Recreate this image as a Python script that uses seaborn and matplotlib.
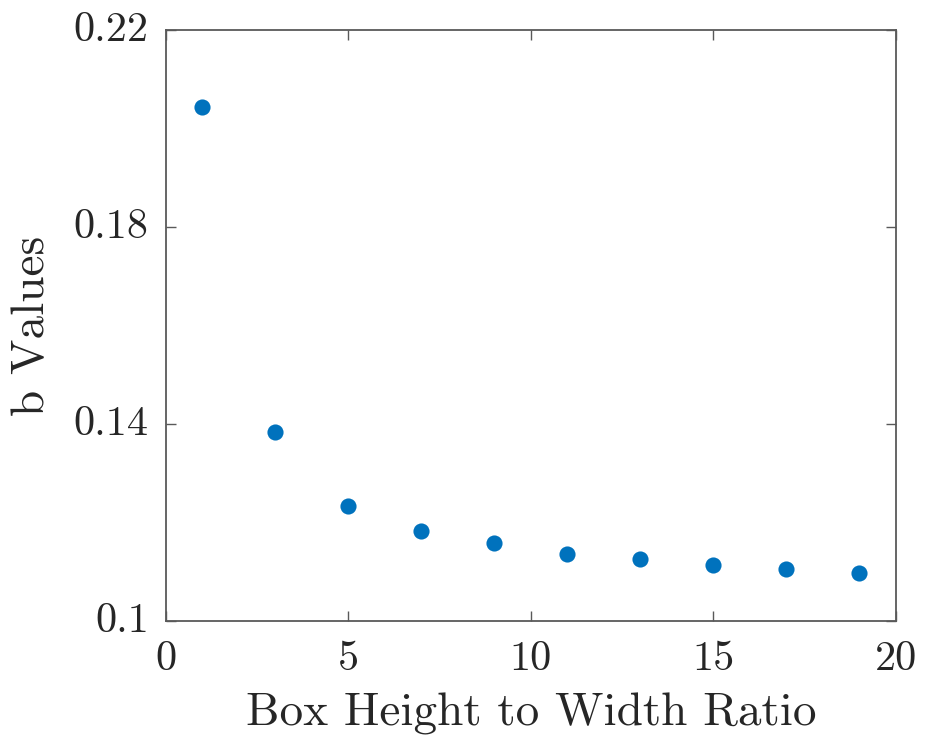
import matplotlib
matplotlib.use("Agg")
import matplotlib.pyplot as plt
import matplotlib.transforms as mtransforms
import seaborn as sns
import pandas as pd

# Box aspect ratio and the fitted b value at each ratio
ratio = [1, 3, 5, 7, 9, 11, 13, 15, 17, 19]
b_values = [0.2044, 0.1383, 0.1234, 0.1183, 0.1158, 0.1137, 0.1125, 0.1113, 0.1105, 0.1097]

x_ticks = [0, 5, 10, 15, 20]
y_ticks = [0.1, 0.14, 0.18, 0.22]
y_tick_labels = ["0.1", "0.14", "0.18", "0.22"]

sns.set_theme(style="ticks")
plt.rcParams["font.family"] = ["cmr10", "DejaVu Serif"]
plt.rcParams["axes.formatter.use_mathtext"] = True
plt.rcParams["mathtext.fontset"] = "cm"

df = pd.DataFrame({"ratio": ratio, "b": b_values})

fig = plt.figure(figsize=(9.25, 7.38), dpi=100)
ax = fig.add_axes([165.5 / 925, 1 - 621 / 738, (896 - 165.5) / 925, (621 - 30) / 738])

sns.scatterplot(data=df, x="ratio", y="b", ax=ax, color="#0072BD",
                s=135, linewidth=0, legend=False)

ax.set_xlim(0, 20)
ax.set_ylim(0.1, 0.22)
ax.set_xticks(x_ticks)
ax.set_xticklabels([str(t) for t in x_ticks])
ax.set_yticks(y_ticks)
ax.set_yticklabels(y_tick_labels)

frame_color = "#595959"
for side in ["left", "right", "top", "bottom"]:
    ax.spines[side].set_visible(True)
    ax.spines[side].set_color(frame_color)
    ax.spines[side].set_linewidth(1.3)

ax.tick_params(axis="both", which="major", direction="in", length=7, width=1.0,
               color=frame_color, labelcolor="#262626", labelsize=30.5,
               top=True, right=True)
ax.tick_params(axis="x", pad=14)
ax.tick_params(axis="y", pad=12)

# lift the y tick labels a few pixels so they sit on the tick like the baseline
lift = mtransforms.ScaledTranslation(0, 4 / 100, fig.dpi_scale_trans)
for lbl in ax.get_yticklabels():
    lbl.set_transform(lbl.get_transform() + lift)

ax.set_xlabel("Box Height to Width Ratio", fontsize=34, color="#262626", labelpad=11)
ax.set_ylabel("b Values", fontsize=34, color="#262626", labelpad=15)

fig.savefig("out.png", dpi=100, facecolor="white")
